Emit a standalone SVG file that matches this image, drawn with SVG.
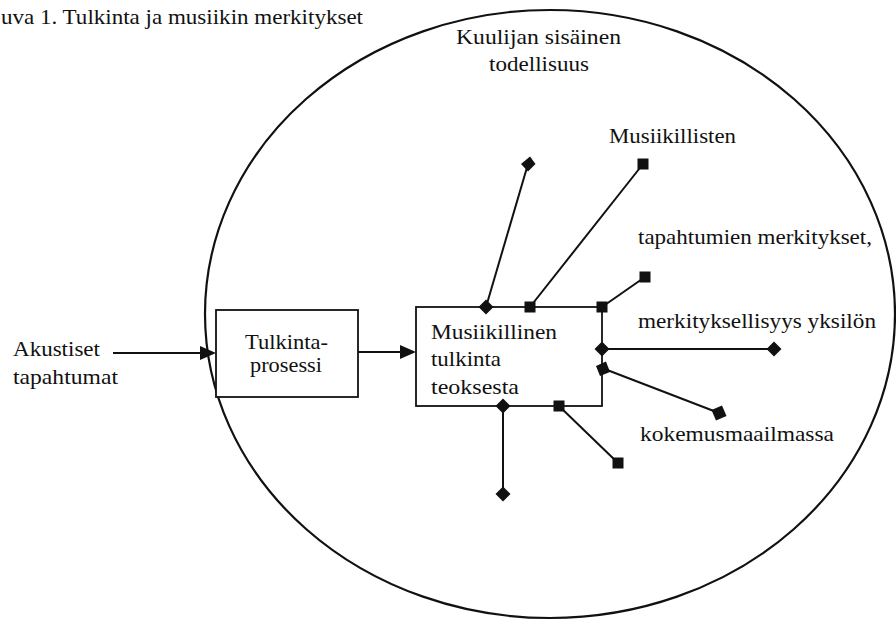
<svg xmlns="http://www.w3.org/2000/svg" width="896" height="621" viewBox="0 0 896 621">
<style>
.box{fill:#fff;stroke:#111;stroke-width:1.8}
.ln{stroke:#111;stroke-width:2;fill:none}
.mk{fill:#111}
</style>
<rect width="896" height="621" fill="#fff"/>
<text x="1" y="24" font-family="Liberation Serif" font-size="21" fill="#111" textLength="362" lengthAdjust="spacingAndGlyphs">uva 1. Tulkinta ja musiikin merkitykset</text>
<g id="listener-reality">
<ellipse cx="550" cy="314" rx="345" ry="304" fill="none" stroke="#111" stroke-width="2.2"/>
<text x="456" y="44" font-family="Liberation Serif" font-size="21" fill="#111" textLength="165" lengthAdjust="spacingAndGlyphs">Kuulijan sis&#228;inen</text>
<text x="489" y="71" font-family="Liberation Serif" font-size="21" fill="#111" textLength="100" lengthAdjust="spacingAndGlyphs">todellisuus</text>
</g>
<g id="acoustic">
<text x="13" y="356" font-family="Liberation Serif" font-size="21" fill="#111" textLength="87" lengthAdjust="spacingAndGlyphs">Akustiset</text>
<text x="13" y="384" font-family="Liberation Serif" font-size="21" fill="#111" textLength="105" lengthAdjust="spacingAndGlyphs">tapahtumat</text>
</g>
<g id="process">
<rect class="box" x="216" y="310" width="142" height="87"/>
<text x="245" y="349" font-family="Liberation Serif" font-size="21" fill="#111" textLength="83" lengthAdjust="spacingAndGlyphs">Tulkinta-</text>
<text x="250" y="372" font-family="Liberation Serif" font-size="21" fill="#111" textLength="72" lengthAdjust="spacingAndGlyphs">prosessi</text>
</g>
<g id="interpretation">
<rect class="box" x="416" y="307" width="186" height="99"/>
<text x="431" y="339" font-family="Liberation Serif" font-size="21" fill="#111" textLength="126" lengthAdjust="spacingAndGlyphs">Musiikillinen</text>
<text x="431" y="366" font-family="Liberation Serif" font-size="21" fill="#111" textLength="70" lengthAdjust="spacingAndGlyphs">tulkinta</text>
<text x="431" y="394" font-family="Liberation Serif" font-size="21" fill="#111" textLength="88" lengthAdjust="spacingAndGlyphs">teoksesta</text>
</g>
<g id="meanings">
<text x="609" y="143" font-family="Liberation Serif" font-size="21" fill="#111" textLength="127" lengthAdjust="spacingAndGlyphs">Musiikillisten</text>
<text x="638" y="244" font-family="Liberation Serif" font-size="21" fill="#111" textLength="234" lengthAdjust="spacingAndGlyphs">tapahtumien merkitykset,</text>
<text x="638" y="328" font-family="Liberation Serif" font-size="21" fill="#111" textLength="238" lengthAdjust="spacingAndGlyphs">merkityksellisyys yksil&#246;n</text>
<text x="640" y="441" font-family="Liberation Serif" font-size="21" fill="#111" textLength="194" lengthAdjust="spacingAndGlyphs">kokemusmaailmassa</text>
</g>
<g id="connectors">
<line class="ln" x1="113" y1="353" x2="202" y2="353"/>
<path class="mk" d="M200,346 L216,353 L200,360 Z"/>
<line class="ln" x1="358" y1="352" x2="402" y2="352"/>
<path class="mk" d="M400,345 L416,352 L400,359 Z"/>
<line class="ln" x1="486" y1="307" x2="528" y2="164"/>
<line class="ln" x1="530" y1="307" x2="643" y2="164"/>
<line class="ln" x1="602" y1="307" x2="645" y2="277"/>
<line class="ln" x1="602" y1="349" x2="774" y2="349"/>
<line class="ln" x1="602" y1="368" x2="719" y2="413"/>
<line class="ln" x1="503" y1="406" x2="503" y2="494"/>
<line class="ln" x1="559" y1="406" x2="618" y2="463"/>
<path class="mk" d="M486,299.5 L493.5,307 L486,314.5 L478.5,307 Z"/>
<path class="mk" d="M530,156.5 L535.5,164 L528,171.5 L521,164 Z"/>
<rect class="mk" x="524.5" y="301.5" width="11" height="11"/>
<rect class="mk" x="637.5" y="158.5" width="11" height="11"/>
<rect class="mk" x="596.5" y="301.5" width="11" height="11"/>
<rect class="mk" x="639.5" y="271.5" width="11" height="11"/>
<path class="mk" d="M602,341.5 L609.5,349 L602,356.5 L594.5,349 Z"/>
<path class="mk" d="M774,341.5 L781.5,349 L774,356.5 L766.5,349 Z"/>
<path class="mk" d="M606,361.5 L610,372 L600,376 L596,366 Z"/>
<path class="mk" d="M722,405.5 L726.5,416 L716,420.5 L711.5,410 Z"/>
<path class="mk" d="M503,398.5 L510.5,406 L503,413.5 L495.5,406 Z"/>
<path class="mk" d="M503,486.5 L510.5,494 L503,501.5 L495.5,494 Z"/>
<rect class="mk" x="553.5" y="400.5" width="11" height="11"/>
<rect class="mk" x="612.5" y="457.5" width="11" height="11"/>
</g>
</svg>
